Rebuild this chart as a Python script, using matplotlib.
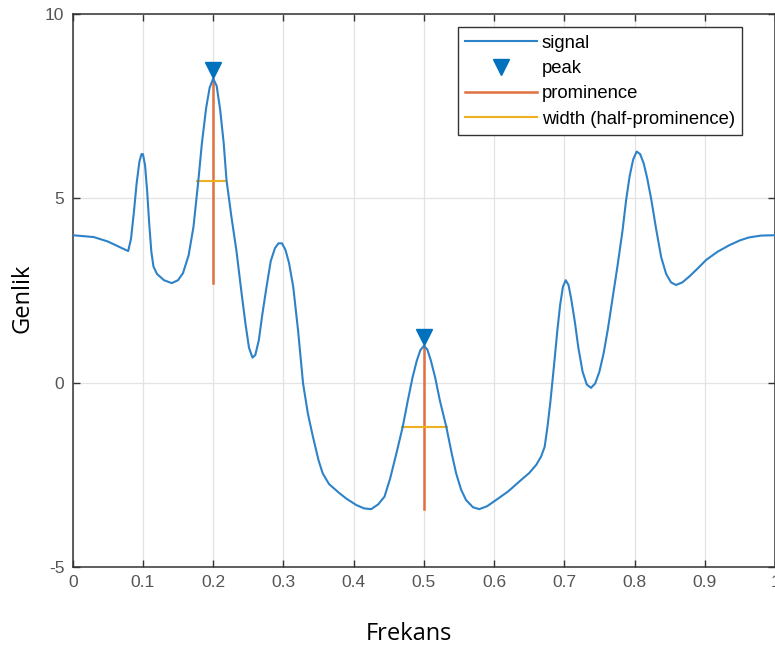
import numpy as np
import matplotlib
matplotlib.use("Agg")
from matplotlib import pyplot as plt
from matplotlib.transforms import ScaledTranslation

# signal
freq = [0.0, 0.03, 0.05, 0.07, 0.079, 0.083, 0.087, 0.091, 0.095, 0.098, 0.1, 0.103,
        0.106, 0.109, 0.112, 0.115, 0.12, 0.13, 0.141, 0.15, 0.157, 0.165, 0.172,
        0.179, 0.184, 0.19, 0.195, 0.2, 0.205, 0.21, 0.215, 0.219, 0.226, 0.233,
        0.24, 0.246, 0.251, 0.256, 0.26, 0.265, 0.27, 0.276, 0.282, 0.288, 0.293,
        0.298, 0.303, 0.308, 0.314, 0.321, 0.328, 0.335, 0.342, 0.35, 0.356, 0.365,
        0.38, 0.39, 0.404, 0.415, 0.425, 0.435, 0.444, 0.452, 0.461, 0.47, 0.477,
        0.484, 0.49, 0.495, 0.5, 0.505, 0.51, 0.516, 0.523, 0.532, 0.54, 0.546,
        0.553, 0.56, 0.57, 0.579, 0.59, 0.603, 0.62, 0.636, 0.65, 0.66, 0.667,
        0.672, 0.676, 0.68, 0.685, 0.69, 0.694, 0.698, 0.702, 0.706, 0.71, 0.715,
        0.72, 0.726, 0.732, 0.738, 0.744, 0.75, 0.756, 0.762, 0.769, 0.776, 0.783,
        0.788, 0.793, 0.798, 0.803, 0.808, 0.813, 0.818, 0.824, 0.831, 0.838,
        0.845, 0.852, 0.859, 0.868, 0.878, 0.89, 0.902, 0.918, 0.935, 0.95,
        0.963, 0.98, 1.0]
genlik = [4.0, 3.95, 3.83, 3.65, 3.57, 3.9, 4.6, 5.4, 6.0, 6.2, 6.2, 5.9,
          5.2, 4.3, 3.55, 3.15, 2.95, 2.78, 2.7, 2.78, 2.97, 3.45, 4.23,
          5.5, 6.5, 7.45, 8.0, 8.25, 8.05, 7.4, 6.5, 5.5, 4.5, 3.6,
          2.5, 1.6, 0.95, 0.68, 0.75, 1.15, 1.85, 2.6, 3.3, 3.65, 3.78,
          3.78, 3.6, 3.25, 2.6, 1.4, -0.02, -0.85, -1.46, -2.1, -2.46, -2.75,
          -3.0, -3.15, -3.32, -3.41, -3.43, -3.3, -3.09, -2.6, -1.91, -1.19, -0.5,
          0.15, 0.6, 0.88, 1.0, 0.9, 0.6, 0.15, -0.5, -1.2, -1.95, -2.46,
          -2.9, -3.18, -3.38, -3.43, -3.35, -3.18, -2.95, -2.68, -2.45, -2.23, -2.0,
          -1.74, -1.2, -0.55, 0.4, 1.4, 2.1, 2.6, 2.78, 2.65, 2.25, 1.65,
          0.95, 0.3, -0.05, -0.14, -0.02, 0.3, 0.8, 1.45, 2.33, 3.2, 4.14,
          4.95, 5.6, 6.05, 6.27, 6.2, 5.95, 5.55, 4.95, 4.14, 3.4,
          2.95, 2.72, 2.65, 2.72, 2.88, 3.1, 3.33, 3.55, 3.73, 3.86,
          3.94, 3.99, 4.0]

peak_x = [0.2, 0.5]
peak_y = [8.25, 1.0]
prom_base = [2.7, -3.43]
width_y = [5.47, -1.21]
width_left = [0.1765, 0.469]
width_right = [0.218, 0.533]

mavi = '#2d82c8'
turuncu = '#e0703f'
sari = '#edb120'

fig = plt.figure(figsize=(7.75, 6.49), dpi=100)
ax = fig.add_axes([0.0938, 0.1263, 0.9062, 0.8521])

ax.plot(freq, genlik, color=mavi, lw=1.5, label='signal', zorder=3)
kaydir = ScaledTranslation(0, 6 / 72, fig.dpi_scale_trans)
ax.plot(peak_x, peak_y, 'v', color='#0072bd', ms=11, ls='none',
        transform=ax.transData + kaydir, label='peak', zorder=4)
for i in range(len(peak_x)):
    ax.plot([peak_x[i], peak_x[i]], [peak_y[i], prom_base[i]], color=turuncu, lw=1.8,
            label='prominence' if i == 0 else None, zorder=2)
    ax.plot([width_left[i], width_right[i]], [width_y[i], width_y[i]], color=sari, lw=1.5,
            label='width (half-prominence)' if i == 0 else None, zorder=2)

ax.set_xlim(0, 1)
ax.set_ylim(-5, 10)
ax.set_xticks(np.arange(0, 1.01, 0.1))
ax.set_xticklabels(['0', '0.1', '0.2', '0.3', '0.4', '0.5', '0.6', '0.7', '0.8', '0.9', '1'])
ax.set_yticks([-5, 0, 5, 10])
ax.set_yticklabels(['-5', '0', '5', '10'])
ax.grid(True, color='#e3e3e3', lw=0.9)
ax.set_axisbelow(True)
ax.tick_params(direction='in', top=True, right=True, length=5, width=1, colors='#333333',
               labelcolor='#555555', labelsize=12.5, pad=6)
for lab in ax.get_xticklabels() + ax.get_yticklabels():
    lab.set_family('Liberation Sans')
for s in ax.spines.values():
    s.set_color('#333333')
    s.set_linewidth(1.1)

ax.set_xlabel('Frekans', fontsize=17, family='Open Sans', color='black')
ax.set_ylabel('Genlik', fontsize=17, family='Open Sans', color='black')
ax.xaxis.set_label_coords(0.479, -0.1)
ax.yaxis.set_label_coords(-0.055, 0.486)

leg = ax.legend(loc='upper left', bbox_to_anchor=(0.548, 0.976), frameon=True, fancybox=False,
                edgecolor='#333333', framealpha=1, handlelength=3.9,
                handletextpad=0.25, borderpad=0.4, labelspacing=0.45, borderaxespad=0,
                prop={'family': 'Liberation Sans', 'size': 13.3})
leg.get_frame().set_linewidth(1.0)

fig.savefig('out.png', dpi=100)
